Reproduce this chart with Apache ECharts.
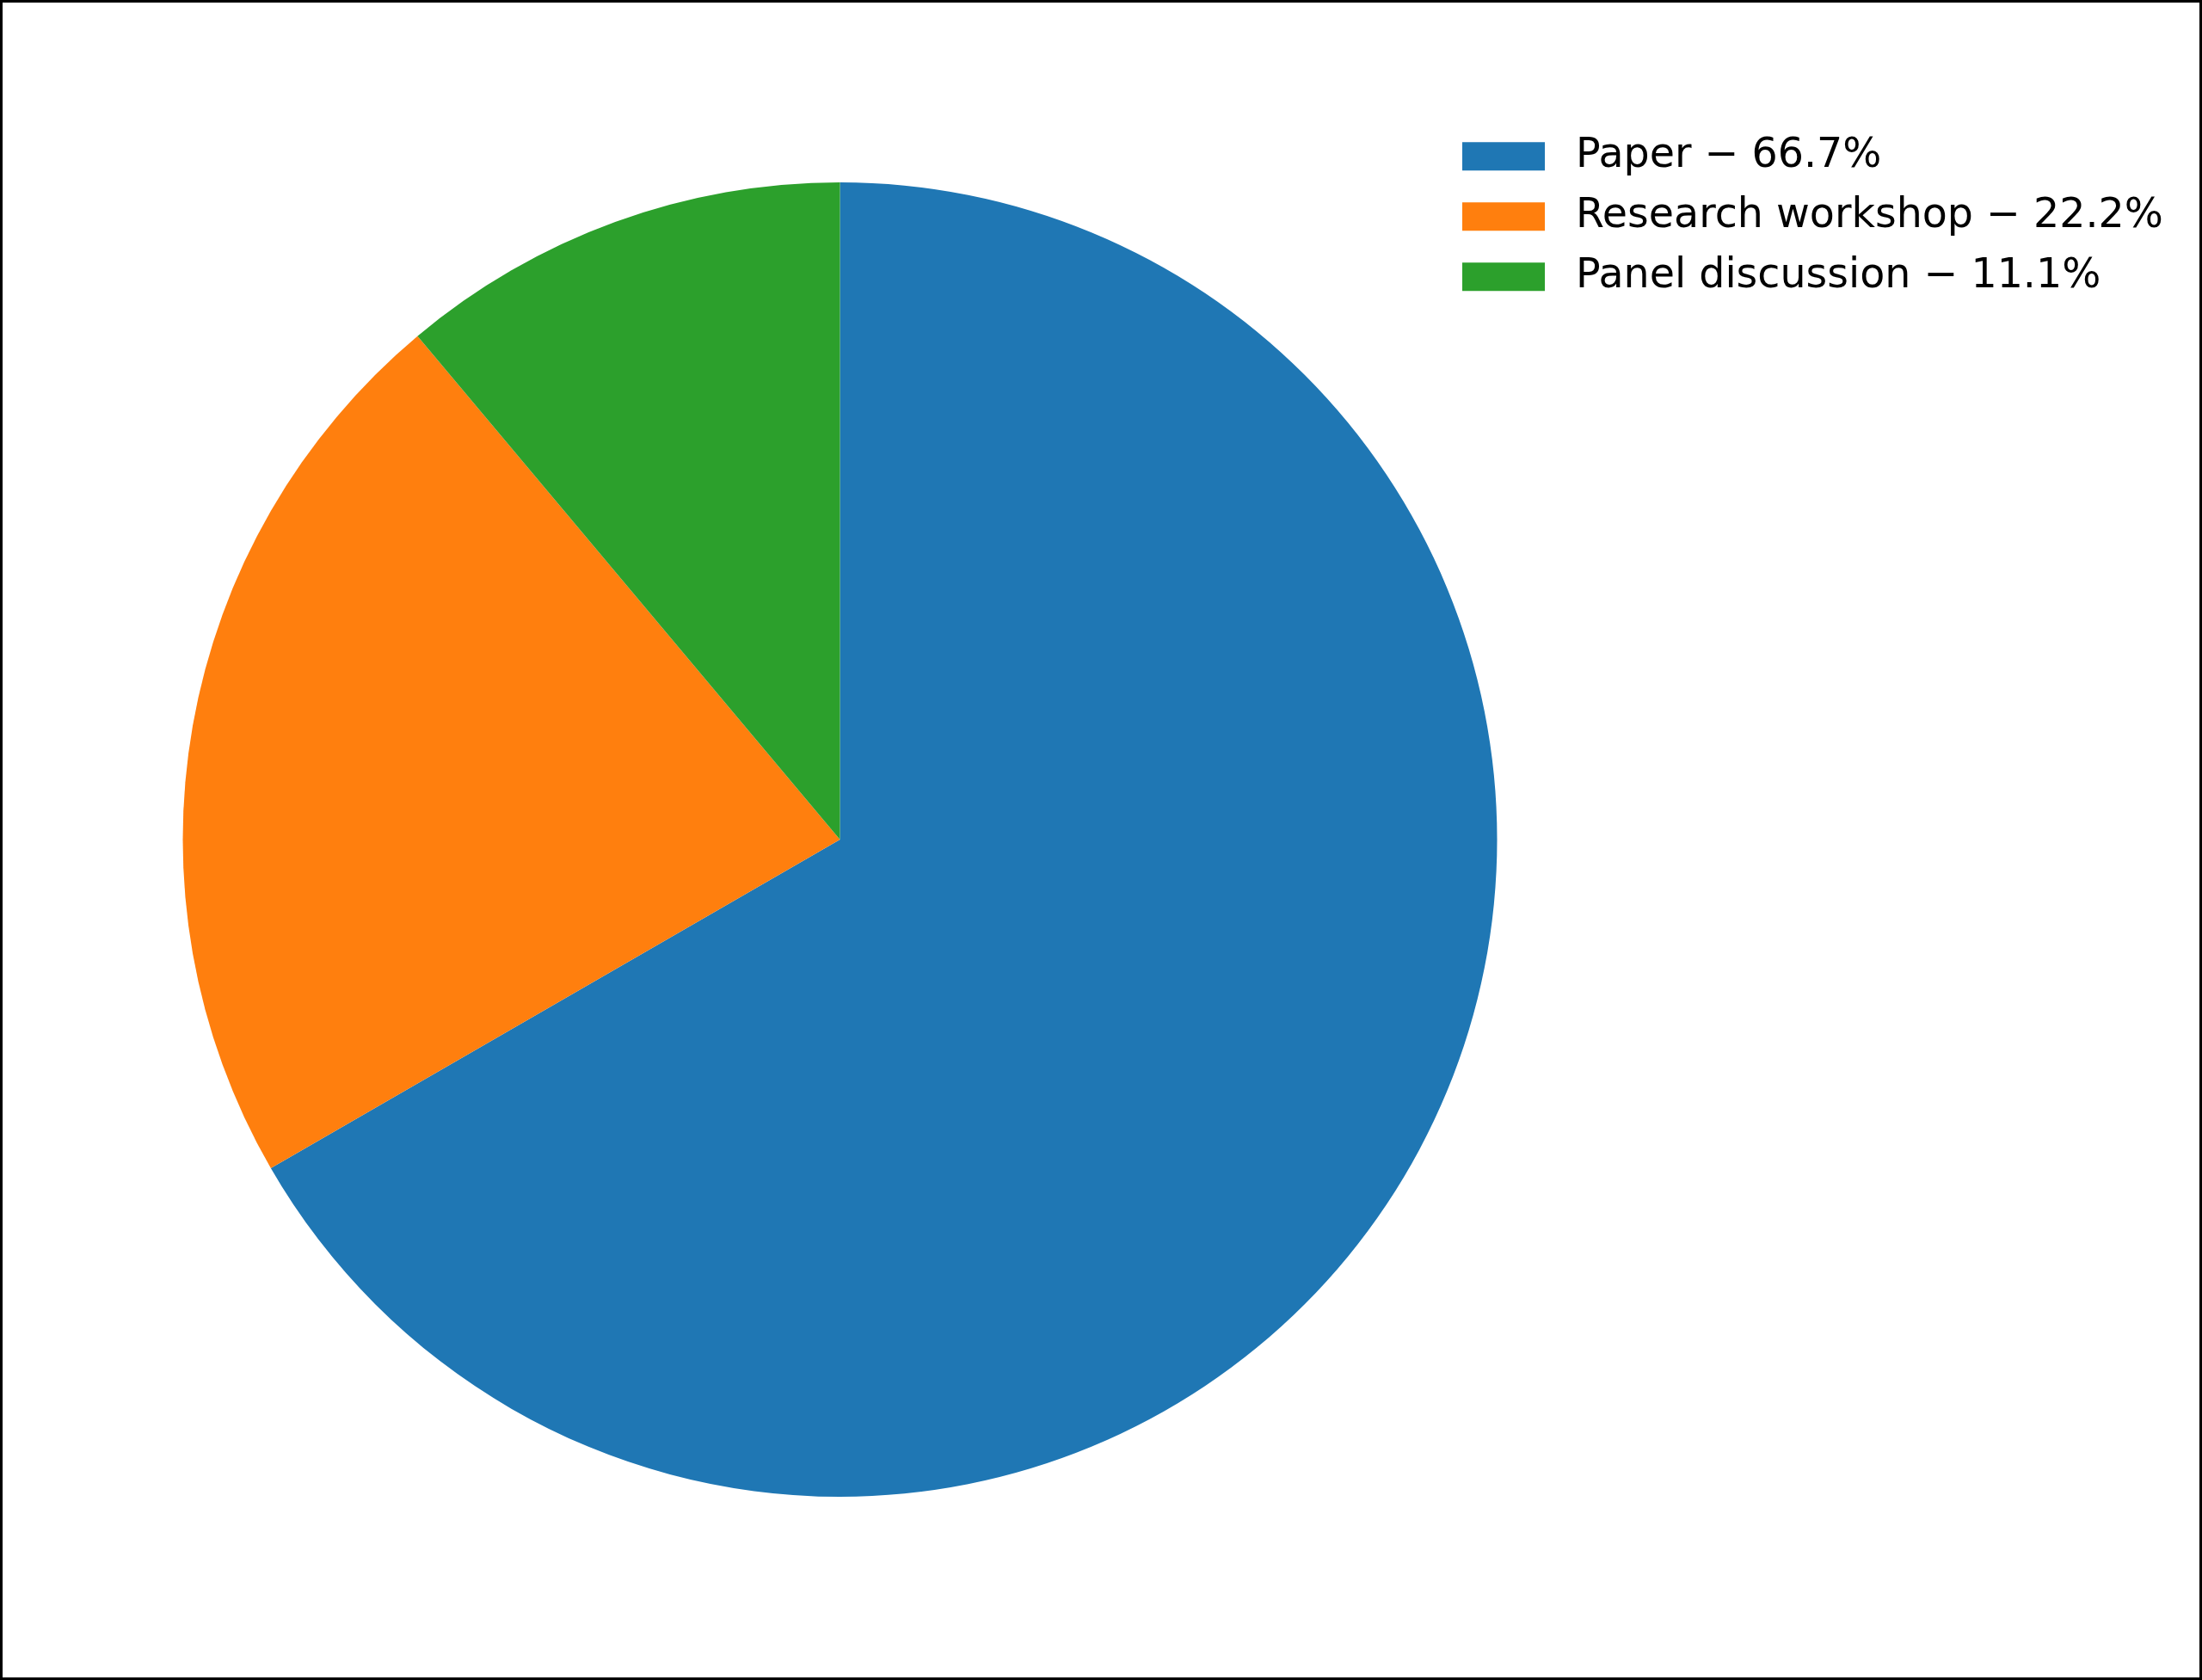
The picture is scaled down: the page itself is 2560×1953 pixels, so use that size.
<!DOCTYPE html>
<html>
<head>
<meta charset="utf-8">
<script src="https://cdn.jsdelivr.net/npm/echarts@6/dist/echarts.min.js"></script>
<style>
html, body { margin: 0; padding: 0; background: #fff; }
#chart { width: 2560px; height: 1953px; }
</style>
</head>
<body>
<div id="chart"></div>
<script>
const categories = ['Paper', 'Research workshop', 'Panel discussion'];
const values = [6, 2, 1];
const colors = ['#1f77b4', '#ff7f0e', '#2ca02c'];

const total = values.reduce((a, b) => a + b, 0);
const pct = {};
categories.forEach((c, i) => { pct[c] = (values[i] / total * 100).toFixed(1); });

const chart = echarts.init(document.getElementById('chart'), null, { renderer: 'canvas' });
chart.setOption({
  backgroundColor: '#ffffff',
  animation: false,
  color: colors,
  legend: {
    orient: 'vertical',
    left: 1700,
    top: 157.75,
    itemWidth: 96,
    itemHeight: 33,
    itemGap: 22,
    icon: 'rect',
    padding: 0,
    selectedMode: false,
    formatter: function (name) { return name + ' \u2212 ' + pct[name] + '%'; },
    textStyle: {
      fontFamily: 'DejaVu Sans',
      fontSize: 47.5,
      color: '#000000',
      padding: [0, 0, 0, 31]
    }
  },
  graphic: [{
    type: 'rect',
    silent: true,
    z: 100,
    shape: { x: 1.5, y: 1.5, width: 2557, height: 1950 },
    style: { fill: null, stroke: '#000000', lineWidth: 3 }
  }],
  series: [{
    type: 'pie',
    center: [976.5, 976],
    radius: 764,
    startAngle: 90,
    clockwise: true,
    label: { show: false },
    labelLine: { show: false },
    itemStyle: { borderWidth: 0 },
    emphasis: { disabled: true },
    data: categories.map((c, i) => ({ name: c, value: values[i] }))
  }]
});
</script>
</body>
</html>
